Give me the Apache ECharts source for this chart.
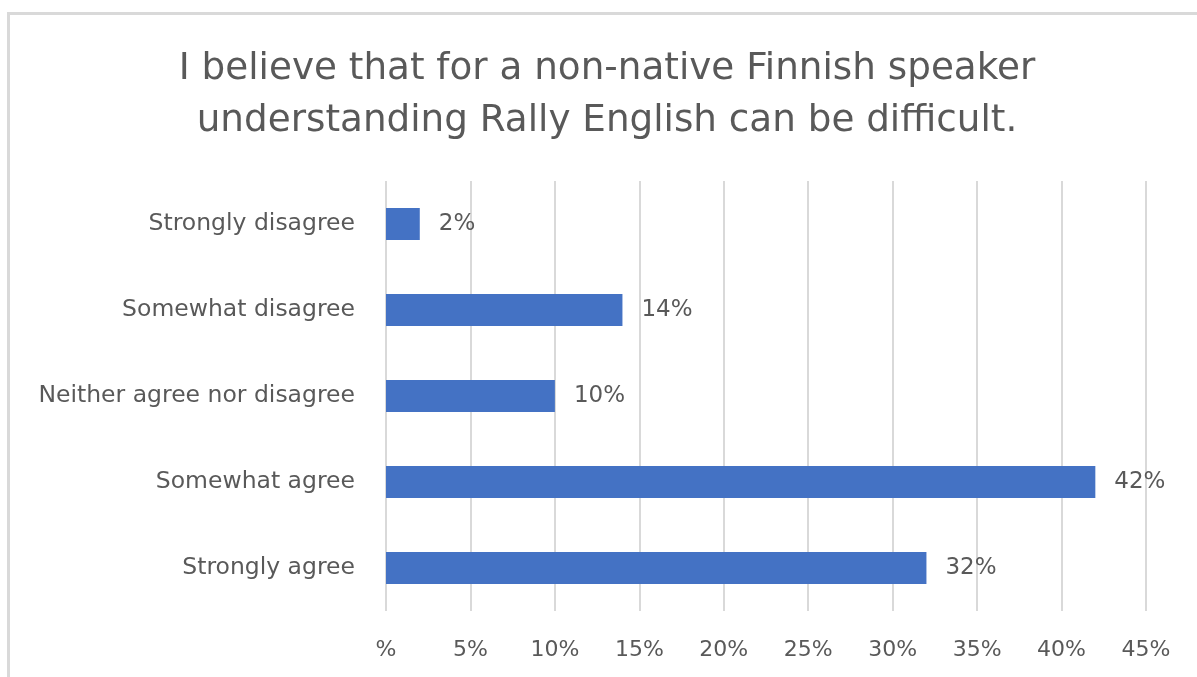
<!DOCTYPE html>
<html>
<head>
<meta charset="utf-8">
<script src="https://cdn.jsdelivr.net/npm/echarts@6/dist/echarts.min.js"></script>
<style>
  html, body { margin: 0; padding: 0; background: #ffffff; }
  #chart { width: 1197px; height: 677px; }
</style>
</head>
<body>
<div id="chart"></div>
<script>
const titleText = 'I believe that for a non-native Finnish speaker\nunderstanding Rally English can be difficult.';
const categories = ['Strongly disagree', 'Somewhat disagree', 'Neither agree nor disagree', 'Somewhat agree', 'Strongly agree'];
const shares = [2, 14, 10, 42, 32];
const axisMax = 45;
const axisStep = 5;

const FONT = '"DejaVu Sans", "Open Sans", sans-serif';
const TEXT = '#595959';

const chart = echarts.init(document.getElementById('chart'), null, { renderer: 'canvas' });
chart.setOption({
  backgroundColor: '#ffffff',
  animation: false,
  graphic: [
    {
      // chart frame (open on the right and bottom edges)
      type: 'rect',
      shape: { x: 8.5, y: 13.5, width: 1300, height: 800 },
      style: { fill: 'none', stroke: '#d9d9d9', lineWidth: 3 },
      silent: true
    },
    {
      // two-line centred heading
      type: 'text',
      x: 607,
      y: 43,
      silent: true,
      style: {
        text: titleText,
        align: 'center',
        verticalAlign: 'top',
        font: 'normal 37.3px ' + FONT,
        lineHeight: 52,
        fill: TEXT
      }
    }
  ],
  grid: { left: 386, right: 51, top: 181, bottom: 66, containLabel: false },
  xAxis: {
    type: 'value',
    min: 0,
    max: axisMax,
    interval: axisStep,
    axisLine: { show: false },
    axisTick: { show: false },
    splitLine: { show: true, lineStyle: { color: '#d9d9d9', width: 2 } },
    axisLabel: {
      margin: 28,
      fontFamily: FONT,
      fontSize: 22,
      color: TEXT,
      formatter: v => (v === 0 ? '%' : v + '%')
    }
  },
  yAxis: {
    type: 'category',
    data: categories,
    inverse: true,
    axisLine: { show: false },
    axisTick: { show: false },
    axisLabel: { margin: 31, fontFamily: FONT, fontSize: 23.5, color: TEXT }
  },
  series: [{
    type: 'bar',
    data: shares,
    barWidth: 32,
    itemStyle: { color: '#4472c4' },
    label: {
      show: true,
      position: 'right',
      distance: 19,
      fontFamily: FONT,
      fontSize: 23,
      color: TEXT,
      formatter: p => p.value + '%'
    }
  }]
});
</script>
</body>
</html>
